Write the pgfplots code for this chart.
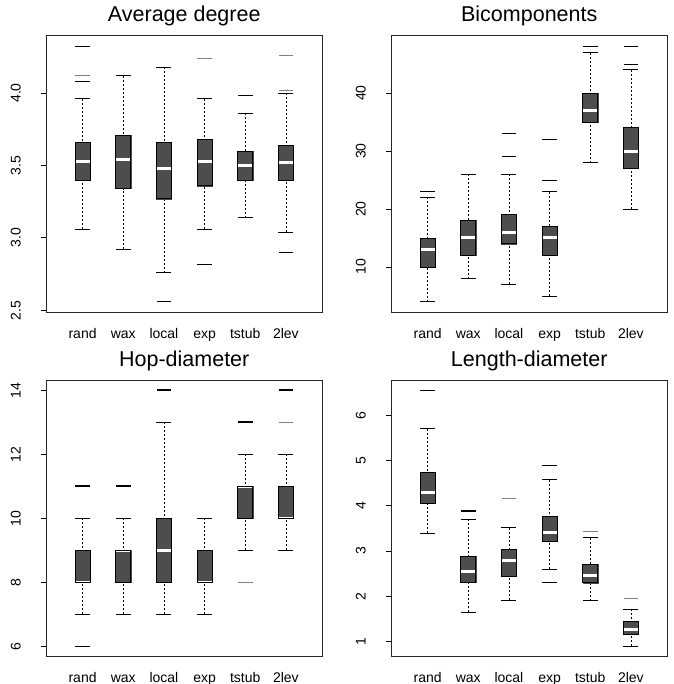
\documentclass[border=0pt]{standalone}
\usepackage{pgfplots}
\pgfplotsset{compat=1.18}
\usepgfplotslibrary{statistics}
\usepackage{fontspec}
\setmainfont{Liberation Sans}
\definecolor{boxgray}{HTML}{4D4D4D}
\newcommand\ticksfont{\fontsize{14bp}{16bp}\selectfont}
\newcommand\titlefont{\fontsize{21.5bp}{24bp}\selectfont}
\pgfplotsset{
  rbox/.style={
    boxplot/draw direction=y,
    boxplot/box extend=0.37,
    boxplot/draw/box/.code={%
      \fill[boxgray] (boxplot box cs:\pgfplotsboxplotvalue{lower quartile},0) rectangle (boxplot box cs:\pgfplotsboxplotvalue{upper quartile},1);
      \draw[white, line width=3bp] (boxplot box cs:\pgfplotsboxplotvalue{median},0) -- (boxplot box cs:\pgfplotsboxplotvalue{median},1);
      \draw[black, line width=0.9bp] (boxplot box cs:\pgfplotsboxplotvalue{lower quartile},0) rectangle (boxplot box cs:\pgfplotsboxplotvalue{upper quartile},1);
    },
    boxplot/draw/median/.code={},
    boxplot/draw/lower whisker/.code={%
      \draw[black, line width=0.8bp, dash pattern=on 2bp off 2bp] (boxplot box cs:\pgfplotsboxplotvalue{lower whisker},0.5) -- (boxplot box cs:\pgfplotsboxplotvalue{lower quartile},0.5);
      \draw[black, line width=0.9bp] (boxplot box cs:\pgfplotsboxplotvalue{lower whisker},0) -- (boxplot box cs:\pgfplotsboxplotvalue{lower whisker},1);
    },
    boxplot/draw/upper whisker/.code={%
      \draw[black, line width=0.8bp, dash pattern=on 2bp off 2bp] (boxplot box cs:\pgfplotsboxplotvalue{upper whisker},0.5) -- (boxplot box cs:\pgfplotsboxplotvalue{upper quartile},0.5);
      \draw[black, line width=0.9bp] (boxplot box cs:\pgfplotsboxplotvalue{upper whisker},0) -- (boxplot box cs:\pgfplotsboxplotvalue{upper whisker},1);
    },
  },
  outl/.style={only marks, mark=-, mark size=7.4bp, mark options={solid, line width=#1, draw=black}},
  outl/.default=0.9bp,
  outg/.style={only marks, mark=-, mark size=7.4bp, mark options={solid, line width=0.9bp, draw=black!50}},
  rpanel/.style={
    scale only axis, width=276.5bp, height=276.5bp,
    xmin=0.1, xmax=6.9,
    xtick={1,2,3,4,5,6}, xticklabels={rand,wax,local,exp,tstub,2lev},
    axis line style={line width=0.8bp, black!85},
    ytick pos=left, tick align=outside, major tick length=5bp,
    tick style={line width=0.8bp, black},
    xtick style={draw=none},
    xticklabel style={font=\ticksfont, anchor=base, inner sep=0pt, yshift=-21bp},
    yticklabel style={font=\ticksfont, xshift=-20.3bp, rotate=90, anchor=base, inner sep=0pt},
    /pgf/number format/assume math mode=true,
    title style={font=\titlefont, at={(0.5,1)}, anchor=base, yshift=8bp, inner sep=0pt},
  },
}
\newcommand{\bx}[6]{\addplot[rbox, boxplot prepared={draw position=#1, lower whisker=#2, lower quartile=#3, median=#4, upper quartile=#5, upper whisker=#6}] coordinates {};}
\begin{document}
\begin{tikzpicture}
\useasboundingbox (0,0) rectangle (674bp,684bp);
% Panel 1
\begin{axis}[rpanel, at={(46bp,371.8bp)}, anchor=south west,
  title={Average degree}, ymin=2.487, ymax=4.396, ytick={2.5,3.0,3.5,4.0},
  yticklabel style={/pgf/number format/.cd, fixed, fixed zerofill, precision=1}]
\bx{1}{3.06}{3.40}{3.53}{3.66}{3.96}
\bx{2}{2.92}{3.34}{3.54}{3.71}{4.12}
\bx{3}{2.76}{3.27}{3.48}{3.66}{4.18}
\bx{4}{3.06}{3.36}{3.53}{3.68}{3.96}
\bx{5}{3.14}{3.40}{3.50}{3.60}{3.86}
\bx{6}{3.04}{3.40}{3.52}{3.64}{4.00}
\addplot[outl] coordinates {(1,4.32) (1,4.08) (3,2.56) (4,2.82) (5,3.98) (6,2.90)};
\addplot[outg] coordinates {(1,4.12) (4,4.24) (6,4.26) (6,4.02)};
\end{axis}
% Panel 2
\begin{axis}[rpanel, at={(391bp,371.8bp)}, anchor=south west,
  title={Bicomponents}, ymin=2.2, ymax=49.9, ytick={10,20,30,40}]
\bx{1}{4}{10}{13}{15}{22}
\bx{2}{8}{12}{15}{18}{26}
\bx{3}{7}{14}{16}{19}{26}
\bx{4}{5}{12}{15}{17}{23}
\bx{5}{28}{35}{37}{40}{47}
\bx{6}{20}{27}{30}{34}{44}
\addplot[outl] coordinates {(1,23) (3,29) (3,33) (4,25) (4,32) (5,48) (6,45) (6,48)};
\end{axis}
% Panel 3
\begin{axis}[rpanel, at={(46bp,27.5bp)}, anchor=south west,
  title={Hop-diameter}, ymin=5.68, ymax=14.32, ytick={6,8,10,12,14}]
\bx{1}{7}{8}{8}{9}{10}
\bx{2}{7}{8}{9}{9}{10}
\bx{3}{7}{8}{9}{10}{13}
\bx{4}{7}{8}{8}{9}{10}
\bx{5}{9}{10}{11}{11}{12}
\bx{6}{9}{10}{10}{11}{12}
\addplot[outl] coordinates {(1,6)};
\addplot[outl=1.6bp] coordinates {(1,11) (3,14) (5,13) (6,14)};
\addplot[outl=2.2bp] coordinates {(2,11)};
\addplot[outg] coordinates {(5,8) (6,13)};
\end{axis}
% Panel 4
\begin{axis}[rpanel, at={(391bp,27.5bp)}, anchor=south west,
  title={Length-diameter}, ymin=0.674, ymax=6.776, ytick={1,2,3,4,5,6}]
\bx{1}{3.39}{4.06}{4.30}{4.73}{5.70}
\bx{2}{1.65}{2.31}{2.55}{2.88}{3.70}
\bx{3}{1.92}{2.45}{2.80}{3.04}{3.52}
\bx{4}{2.60}{3.21}{3.42}{3.76}{4.58}
\bx{5}{1.90}{2.30}{2.47}{2.70}{3.30}
\bx{6}{0.90}{1.16}{1.28}{1.44}{1.72}
\addplot[outl] coordinates {(1,6.55) (2,3.88) (2,3.90) (4,4.88) (4,2.30)};
\addplot[outg] coordinates {(3,4.16) (5,3.43) (6,1.96)};
\end{axis}
\end{tikzpicture}
\end{document}
